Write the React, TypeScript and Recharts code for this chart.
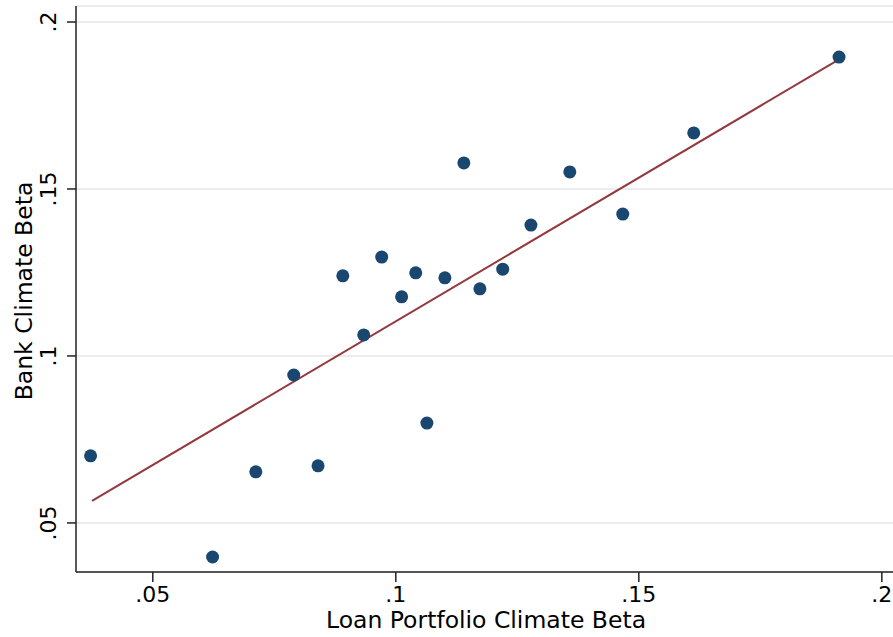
import {
  ComposedChart,
  Scatter,
  XAxis,
  YAxis,
  CartesianGrid,
  Label,
} from "recharts";

// loan portfolio climate beta (x) vs bank climate beta (y)
const loanBeta = [
  0.0372, 0.0623, 0.0712, 0.079, 0.084, 0.0891, 0.0934, 0.0971, 0.1012, 0.1041,
  0.1064, 0.1101, 0.114, 0.1173, 0.122, 0.1278, 0.1358, 0.1467, 0.1613, 0.1912,
];
const bankBeta = [
  0.0701, 0.0398, 0.0653, 0.0943, 0.0671, 0.124, 0.1063, 0.1296, 0.1177, 0.1249,
  0.0799, 0.1234, 0.1578, 0.1201, 0.126, 0.1392, 0.1551, 0.1425, 0.1668, 0.1895,
];

// fitted line end points
const fitX = [0.0375, 0.1906];
const fitY = [0.0566, 0.1883];

const xTicks = [0.05, 0.1, 0.15, 0.2];
const yTicks = [0.05, 0.1, 0.15, 0.2];

const points = loanBeta.map((x, i) => ({ x, y: bankBeta[i] }));
const fitLine = fitX.map((x, i) => ({ x, y: fitY[i] }));

const NAVY = "#1a476f";
const MAROON = "#93393f";
const FONT = "DejaVu Sans, Verdana, sans-serif";

const fmt = (v: number) => String(v).replace(/^0/, "");

const XTick = (props: any) => {
  const { x, payload } = props;
  return (
    <text x={x} y={602} textAnchor="middle" fontSize={22} fontFamily={FONT} fill="#000">
      {fmt(payload.value)}
    </text>
  );
};

const YTick = (props: any) => {
  const { y, payload } = props;
  return (
    <text
      x={56}
      y={y}
      transform={`rotate(-90, 56, ${y})`}
      textAnchor="middle"
      fontSize={22}
      fontFamily={FONT}
      fill="#000"
    >
      {fmt(payload.value)}
    </text>
  );
};

const Dot = (props: any) => <circle cx={props.cx} cy={props.cy} r={6.5} fill={NAVY} />;

export default function App() {
  return (
    <div style={{ width: 893, height: 637, background: "#fff" }}>
      <style>{`body{margin:0}`}</style>
      <ComposedChart
        width={893}
        height={637}
        margin={{ top: 6, right: 0, left: 0, bottom: 0 }}
      >
        <CartesianGrid horizontal vertical={false} stroke="#e6e6e6" strokeWidth={1.5} />
        <XAxis
          type="number"
          dataKey="x"
          domain={[0.0342, 0.2023]}
          allowDataOverflow
          ticks={xTicks}
          tick={<XTick />}
          height={65}
          tickSize={10}
          axisLine={{ stroke: "#222", strokeWidth: 1.5 }}
          tickLine={{ stroke: "#222", strokeWidth: 1.5 }}
        >
          <Label
            content={() => (
              <text x={486} y={628} textAnchor="middle" fontSize={23.5} fontFamily={FONT} fill="#000">
                Loan Portfolio Climate Beta
              </text>
            )}
          />
        </XAxis>
        <YAxis
          type="number"
          dataKey="y"
          domain={[0.0353, 0.2048]}
          allowDataOverflow
          ticks={yTicks}
          tick={<YTick />}
          width={76}
          tickSize={9}
          axisLine={{ stroke: "#222", strokeWidth: 1.5 }}
          tickLine={{ stroke: "#222", strokeWidth: 1.5 }}
        >
          <Label
            content={() => (
              <text
                x={32}
                y={291}
                transform="rotate(-90, 32, 291)"
                textAnchor="middle"
                fontSize={23.5}
                fontFamily={FONT}
                fill="#000"
              >
                Bank Climate Beta
              </text>
            )}
          />
        </YAxis>
        <Scatter
          data={fitLine}
          line={{ stroke: MAROON, strokeWidth: 2 }}
          shape={() => <g />}
          isAnimationActive={false}
        />
        <Scatter data={points} shape={<Dot />} isAnimationActive={false} />
      </ComposedChart>
    </div>
  );
}
